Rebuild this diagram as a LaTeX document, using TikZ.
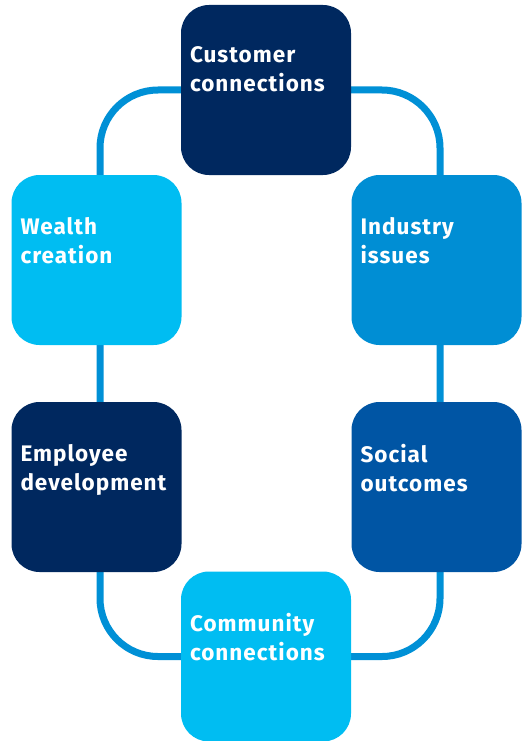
\documentclass[tikz,border=0pt]{standalone}
\usepackage{fontspec}
\setmainfont{Fira Sans}[LetterSpace=4.5]
\usetikzlibrary{backgrounds}
\definecolor{navy}{HTML}{00285F}
\definecolor{sky}{HTML}{00BDF2}
\definecolor{midblue}{HTML}{008ED4}
\definecolor{royal}{HTML}{0055A4}
\definecolor{ringblue}{HTML}{0090D6}
\newcommand{\topic}[5]{
  \node[topicbox, fill=#4] (#1) at (#2,#3) {};
  \node[topictext, anchor=north west] (#1-t)
    at ([xshift=9pt, yshift=-42pt]#1.north west) {#5};
}
\tikzset{
  topicbox/.style  = {rounded corners=28pt, minimum size=170pt,
                      inner sep=0pt, draw=none},
  topictext/.style = {text=white, align=left, inner sep=0pt,
                      font=\fontsize{22.5}{29}\selectfont\bfseries},
  ring/.style      = {draw=ringblue, line width=7pt, rounded corners=58pt}
}

\begin{document}
\begin{tikzpicture}[x=1pt, y=-1pt]
  \useasboundingbox (0,0) rectangle (529,741);
  \topic{cc}{266}{90}{navy}{Customer\\connections}
  \topic{wc}{96.5}{260}{sky}{Wealth\\creation}
  \topic{ii}{436.5}{260}{midblue}{Industry\\issues}
  \topic{ed}{96.5}{487}{navy}{Employee\\development}
  \topic{so}{436.5}{487}{royal}{Social\\outcomes}
  \topic{com}{266}{656.5}{sky}{Community\\connections}
  \begin{scope}[on background layer]
    \draw[ring] (cc.center) -| ([xshift=3.5pt]wc.center)
      -- ([xshift=3.5pt]ed.center) |- (com.center)
      -| ([xshift=3.5pt]so.center) -- ([xshift=3.5pt]ii.center)
      |- (cc.center);
  \end{scope}
\end{tikzpicture}
\end{document}
